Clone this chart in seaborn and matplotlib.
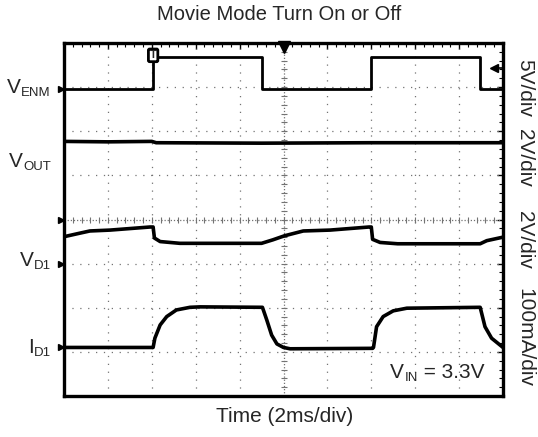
import numpy as np
import pandas as pd
import matplotlib
matplotlib.use("Agg")
import matplotlib.pyplot as plt
from matplotlib.transforms import IdentityTransform
import seaborn as sns

# scope traces in divisions (x: 0..10, y: 0..8)
venm_t = [0, 2.03, 2.03, 4.52, 4.52, 7.0, 7.0, 9.48, 9.48, 10]
venm_v = [6.95, 6.95, 7.68, 7.68, 6.95, 6.95, 7.68, 7.68, 6.95, 6.95]

vout_t = [0, 1.0, 2.0, 2.1, 4.5, 7.0, 10]
vout_v = [5.77, 5.76, 5.77, 5.74, 5.73, 5.74, 5.74]

vd1_t = [0, 0.36, 0.59, 1.05, 1.96, 2.03, 2.06, 2.19, 2.64, 4.5, 4.76, 5.02,
         5.45, 6.06, 6.95, 7.0, 7.03, 7.2, 7.6, 9.48, 9.63, 10]
vd1_v = [3.61, 3.69, 3.74, 3.76, 3.83, 3.83, 3.58, 3.50, 3.46, 3.46, 3.54, 3.63,
         3.74, 3.76, 3.83, 3.83, 3.55, 3.48, 3.45, 3.45, 3.52, 3.60]

id1_t = [0, 2.03, 2.07, 2.19, 2.34, 2.56, 2.87, 3.1, 4.52, 4.62, 4.73, 4.85,
         5.0, 5.15, 7.03, 7.05, 7.12, 7.27, 7.5, 7.81, 9.48, 9.59, 9.74, 10]
id1_v = [1.10, 1.10, 1.31, 1.61, 1.80, 1.95, 2.01, 2.02, 2.01, 1.72, 1.38, 1.18,
         1.10, 1.07, 1.08, 1.10, 1.57, 1.80, 1.93, 1.99, 2.01, 1.57, 1.31, 1.10]

# ground reference markers on the left edge
gnd_levels = [6.95, 4.0, 3.0, 1.1]
ch_main = ["V", "V", "V", "I"]
ch_sub = ["ENM", "OUT", "D1", "D1"]
ch_base_px = [93, 167, 266, 353]     # baseline, pixels from top
scales = ["5V/div", "2V/div", "2V/div", "100mA/div"]
scale_y_px = [88, 158, 240, 338]

sns.set_style("white")
plt.rcParams['font.family'] = ['Liberation Sans', 'DejaVu Sans']

W, H = 538, 437
fig = plt.figure(figsize=(W / 100, H / 100), dpi=100)
ax = fig.add_axes([64 / W, 1 - 396 / H, 439 / W, 353 / H])

# graticule
for k in range(1, 10):
    ls = (0, (1, 1.5)) if k == 5 else (0, (1, 5.3))
    ax.axvline(k, color="0.45", lw=0.9, ls=ls, zorder=1)
for k in range(1, 8):
    ls = (0, (1, 1.5)) if k == 4 else (0, (1, 5.3))
    ax.axhline(k, color="0.45", lw=0.9, ls=ls, zorder=1)
minor_x = np.arange(0.2, 10, 0.2)
minor_y = np.arange(0.2, 8, 0.2)
ax.plot(minor_x, np.full(len(minor_x), 4.0), ls="none", marker="|", ms=4,
        mew=0.8, color="0.45", zorder=1)
ax.plot(np.full(len(minor_y), 5.0), minor_y, ls="none", marker="_", ms=4,
        mew=0.8, color="0.45", zorder=1)

traces = [(venm_t, venm_v, 2.0), (vout_t, vout_v, 2.6),
          (vd1_t, vd1_v, 2.6), (id1_t, id1_v, 2.6)]
for t, v, w in traces:
    df = pd.DataFrame({"t": t, "v": v})
    sns.lineplot(data=df, x="t", y="v", ax=ax, color="black", lw=w,
                 sort=False, estimator=None, zorder=3)

ax.set_xlim(0, 10)
ax.set_ylim(0, 8)
ax.set_xticks(range(0, 11))
ax.set_yticks(range(0, 9))
ax.set_xticks(np.arange(0, 10.01, 0.2), minor=True)
ax.set_yticks(np.arange(0, 8.01, 0.2), minor=True)
ax.tick_params(which="both", direction="in", top=True, right=True,
               labelbottom=False, labelleft=False, color="black")
ax.tick_params(which="major", length=4, width=1)
ax.tick_params(which="minor", length=3, width=0.8)
for s in ax.spines.values():
    s.set_linewidth(2.4)
    s.set_color("black")
ax.set_xlabel("")
ax.set_ylabel("")

# markers
ax.plot([-0.06] * len(gnd_levels), gnd_levels, ls="none", marker=">", ms=5,
        color="black", clip_on=False, zorder=5)
ax.plot([5.0], [7.9], ls="none", marker="v", ms=8, color="black",
        clip_on=False, zorder=5)
ax.plot([9.78, 10], [7.43, 7.43], color="black", lw=1.2, zorder=5)
ax.plot([9.8], [7.43], ls="none", marker="<", ms=6, color="black", zorder=5)
ax.text(2.03, 7.72, "T", ha="center", va="center", fontsize=8,
        fontweight="bold", zorder=6,
        bbox=dict(boxstyle="round,pad=0.12", fc="white", ec="black", lw=2))

renderer = fig.canvas.get_renderer()
px = IdentityTransform()


def label_right(x_right, base_top, main, sub):
    # subscript first (right aligned), then main letter to its left
    t = fig.text(x_right, H - base_top - 3, sub, ha="right", va="baseline",
                 fontsize=9.5, transform=px)
    x0 = t.get_window_extent(renderer).x0
    fig.text(x0 - 0.5, H - base_top, main, ha="right", va="baseline",
             fontsize=15, transform=px)


def label_left(x_left, base_top, main, sub, rest):
    t = fig.text(x_left, H - base_top, main, ha="left", va="baseline",
                 fontsize=15, transform=px)
    x1 = t.get_window_extent(renderer).x1
    s = fig.text(x1 + 0.5, H - base_top - 3, sub, ha="left", va="baseline",
                 fontsize=9.5, transform=px)
    x2 = s.get_window_extent(renderer).x1
    fig.text(x2, H - base_top, rest, ha="left", va="baseline",
             fontsize=15, transform=px)


for m, s, b in zip(ch_main, ch_sub, ch_base_px):
    label_right(51, b, m, s)

for lab, y in zip(scales, scale_y_px):
    fig.text(525, H - y, lab, ha="center", va="center", rotation=270,
             fontsize=15, transform=px)

label_left(390, 378, "V", "IN", " = 3.3V")

fig.text(279, H - 15, "Movie Mode Turn On or Off", ha="center", va="center",
         fontsize=14.5, transform=px)
fig.text(284.5, H - 417, "Time (2ms/div)", ha="center", va="center",
         fontsize=15, transform=px)

fig.savefig("out.png", dpi=100)
